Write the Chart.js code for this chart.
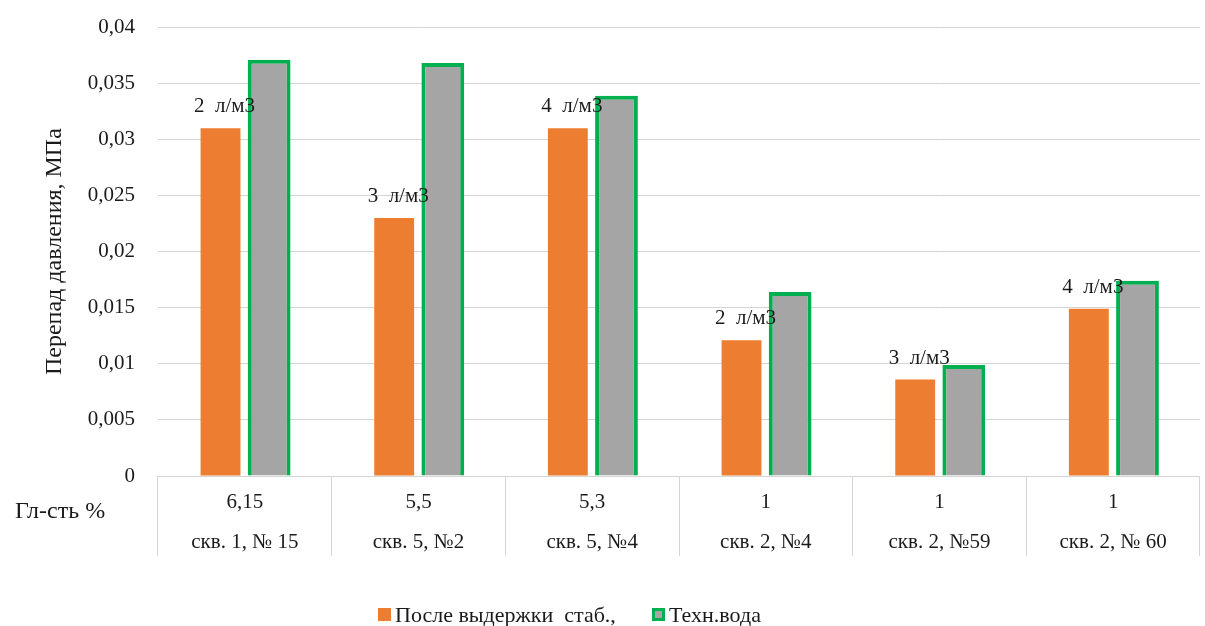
<!DOCTYPE html>
<html>
<head>
<meta charset="utf-8">
<script src="https://cdn.jsdelivr.net/npm/chart.js@4"></script>
<style>
  html, body { margin: 0; padding: 0; background: #fff; }
  #wrap { width: 1205px; height: 626px; }
</style>
</head>
<body>
<div id="wrap"><canvas id="mychart"></canvas></div>
<script>
// data
const glSt = ['6,15', '5,5', '5,3', '1', '1', '1']
const wells = ['скв. 1, № 15', 'скв. 5, №2', 'скв. 5, №4', 'скв. 2, №4', 'скв. 2, №59', 'скв. 2, № 60']
const afterStab = [0.031, 0.023, 0.031, 0.0121, 0.0086, 0.0149]
const techWater = [0.0371, 0.0368, 0.0339, 0.0164, 0.0099, 0.0174]
const doses = [2, 3, 4, 2, 3, 4]
const yTickLabels = ['0', '0,005', '0,01', '0,015', '0,02', '0,025', '0,03', '0,035', '0,04']

const serif = "'Liberation Serif', 'Times New Roman', serif"
const textColor = '#1a1a1a'

// dose labels above the orange bars + left caption + legend
const extras = {
  id: 'extras',
  afterDatasetsDraw(chart) {
    const ctx = chart.ctx
    ctx.save()
    ctx.fillStyle = textColor
    ctx.font = '21px ' + serif
    ctx.textAlign = 'center'
    ctx.textBaseline = 'alphabetic'
    chart.getDatasetMeta(0).data.forEach(function(bar, i){
      ctx.fillText(doses[i] + '  л/м3', bar.x + 4, bar.y - 16)
    })
    ctx.restore()
  },
  afterDraw(chart) {
    const ctx = chart.ctx
    ctx.save()
    ctx.fillStyle = textColor
    ctx.font = '24px ' + serif
    ctx.textBaseline = 'middle'
    ctx.textAlign = 'left'
    ctx.fillText('Гл-сть %', 15, 512)

    // legend
    const items = [
      {x: 378, ds: chart.data.datasets[0]},
      {x: 652, ds: chart.data.datasets[1]}
    ]
    const y = 615
    ctx.font = '22px ' + serif
    items.forEach(function(it){
      ctx.fillStyle = it.ds.borderColor || it.ds.backgroundColor
      ctx.fillRect(it.x, y - 7, 13, 13)
      if (it.ds.borderWidth) {
        ctx.fillStyle = it.ds.backgroundColor
        ctx.fillRect(it.x + 3, y - 4, 7, 7)
      }
      ctx.fillStyle = textColor
      ctx.fillText(it.ds.label, it.x + 17, y + 1)
    })
    ctx.restore()
  }
}

const canvas = document.getElementById('mychart')
new Chart(canvas, {
  type: 'bar',
  data: {
    labels: glSt.map(function(g, i){ return [g, wells[i]] }),
    datasets: [{
      label: 'После выдержки  стаб.,',
      data: afterStab,
      backgroundColor: '#ED7D31',
      borderWidth: 0,
      barPercentage: 0.82
    }, {
      label: 'Техн.вода',
      data: techWater,
      backgroundColor: '#A5A5A5',
      borderColor: '#00B050',
      borderWidth: 4,
      barPercentage: 0.88
    }]
  },
  options: {
    responsive: true,
    maintainAspectRatio: false,
    animation: false,
    layout: { padding: { top: 1, right: 5, left: 0, bottom: 0 } },
    plugins: {
      legend: { display: false },
      tooltip: { enabled: false }
    },
    datasets: { bar: { categoryPercentage: 0.56 } },
    scales: {
      x: {
        afterFit: function(s){ s.height = 150 },
        border: { display: false },
        grid: {
          offset: true,
          drawOnChartArea: false,
          drawTicks: true,
          tickLength: 80,
          color: '#d4d4d4'
        },
        ticks: {
          padding: -73,
          color: textColor,
          font: { family: serif, size: 21, lineHeight: 1.9 },
          maxRotation: 0,
          autoSkip: false
        }
      },
      y: {
        min: 0,
        max: 0.04,
        afterFit: function(s){ s.width = 158 },
        border: { display: false },
        grid: { color: '#d4d4d4', drawTicks: false },
        ticks: {
          stepSize: 0.005,
          padding: 23,
          color: textColor,
          // small lineHeight keeps the top padding at ~27px
          font: { family: serif, size: 21, lineHeight: 0.4 },
          callback: function(v, i){ return yTickLabels[i] }
        },
        title: {
          display: true,
          text: 'Перепад давления, МПа',
          color: textColor,
          font: { family: serif, size: 24 },
          padding: { top: 40, bottom: 0 }
        }
      }
    }
  },
  plugins: [extras]
})
</script>
</body>
</html>
